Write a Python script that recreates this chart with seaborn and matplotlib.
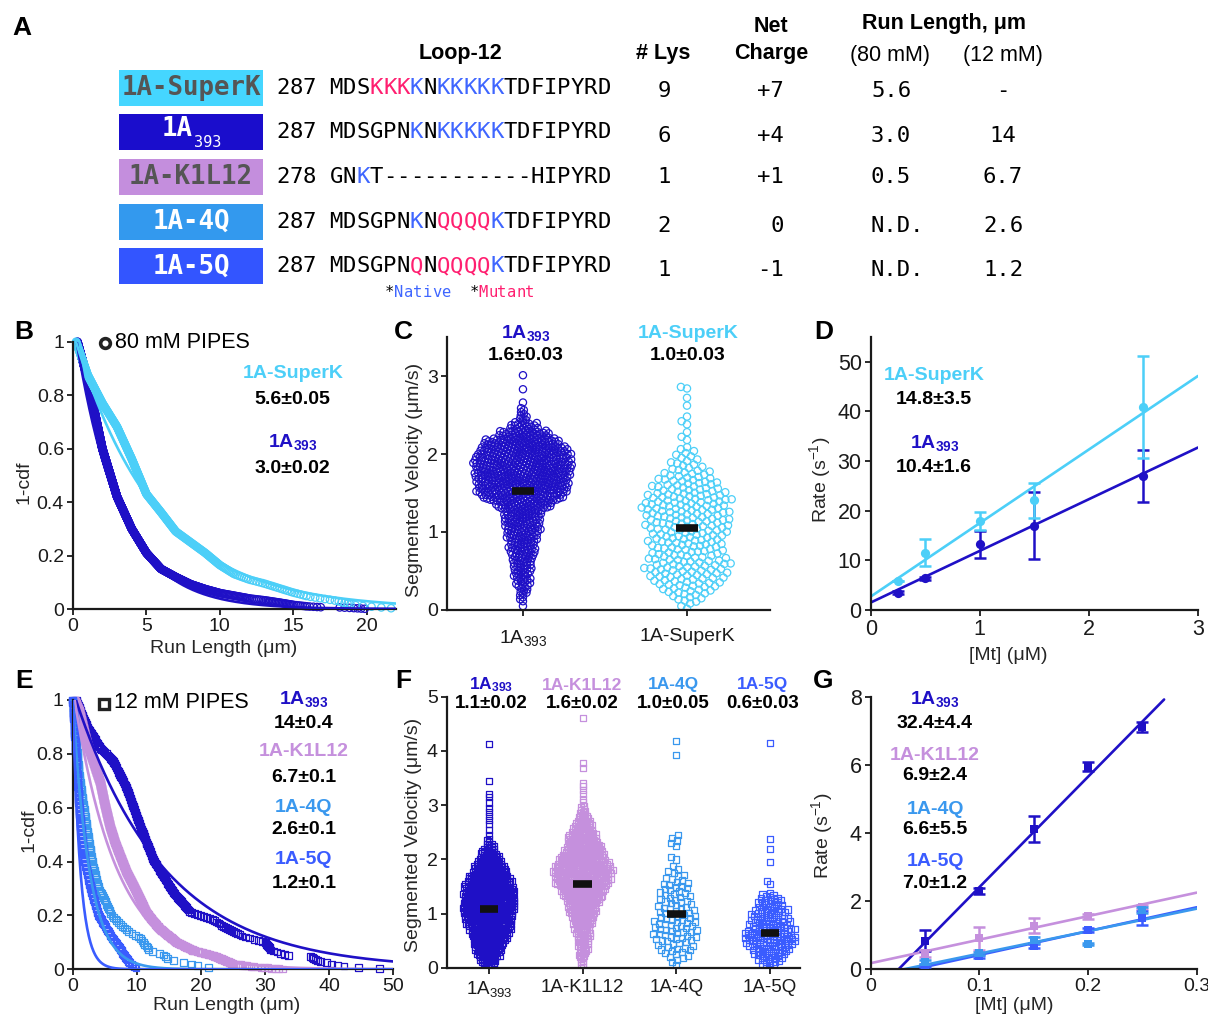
import numpy as np
import pandas as pd
import matplotlib
matplotlib.use("Agg")
import matplotlib.pyplot as plt
import seaborn as sns
from matplotlib.patches import Rectangle
from matplotlib.lines import Line2D

# ======================= DATA =======================
# ---- Panel A : loop-12 table
a_names = ["1A-SuperK", "1A393", "1A-K1L12", "1A-4Q", "1A-5Q"]
a_start = ["287", "287", "278", "287", "287"]
a_seq = ["MDSKKKKNKKKKKTDFIPYRD",
         "MDSGPNKNKKKKKTDFIPYRD",
         "GNKT-----------HIPYRD",
         "MDSGPNKNQQQQKTDFIPYRD",
         "MDSGPNQNQQQQKTDFIPYRD"]
# '.' plain residue, 'n' native lysine, 'm' mutant residue
a_marks = ["...mmmn.nnnnn........",
           "......n.nnnnn........",
           "..n..................",
           "......n.mmmmn........",
           "......m.mmmmn........"]
a_lys = ["9", "6", "1", "2", "1"]
a_charge = ["+7", "+4", "+1", "0", "-1"]
a_rl80 = ["5.6", "3.0", "0.5", "N.D.", "N.D."]
a_rl12 = ["-", "14", "6.7", "2.6", "1.2"]

# ---- Panel B : run lengths at 80 mM PIPES (histogram edges / counts)
b_edges_393 = [0.3, 1, 2, 3, 4, 5, 6, 7, 8, 9, 10, 11, 12, 13, 14, 15, 16, 17, 18, 19, 20]
b_counts_393 = [168, 312, 216, 144, 108, 72, 36, 32, 22, 18, 12, 12, 8, 10, 11, 7, 4, 0, 3, 4]
b_edges_superk = [0.2, 1, 2, 3, 4, 5, 6, 7, 8, 9, 10, 11, 12, 13, 14, 15, 16, 17, 18, 19, 20, 22]
b_counts_superk = [44, 37, 31, 42, 46, 24, 25, 14, 14, 16, 12, 7, 5, 6, 6, 5, 3, 3, 5, 2, 3]
b_fit_len = {"1A393": 3.0, "1A-SuperK": 5.6}
b_fit_x0 = {"1A393": 0.25, "1A-SuperK": 0.2}
b_stats = {"1A393": "3.0±0.02", "1A-SuperK": "5.6±0.05"}

# ---- Panel C : segmented velocity, 80 mM (counts per 0.1 um/s bin from 0)
c_names = ["1A393", "1A-SuperK"]
c_counts = {
    "1A393": [1, 4, 7, 10, 12, 13, 15, 18, 19, 21, 24, 25, 28, 40, 56, 63, 66, 68, 68, 66,
              62, 53, 35, 19, 7, 4],
    "1A-SuperK": [3, 7, 11, 14, 16, 17, 16, 15, 16, 16, 17, 18, 18, 19, 18, 15, 13, 10, 7, 5, 4],
}
c_outliers = {"1A393": [2.66, 2.83, 3.01],
              "1A-SuperK": [2.18, 2.22, 2.28, 2.38, 2.42, 2.48, 2.62, 2.72, 2.84, 2.86]}
c_means = [1.53, 1.05]
c_stats = ["1.6±0.03", "1.0±0.03"]

# ---- Panel D : rate vs [Mt], 80 mM
d_mt = [0.25, 0.5, 1.0, 1.5, 2.5]
d_rate = {"1A-SuperK": [5.9, 11.5, 18.0, 22.1, 40.8], "1A393": [3.5, 6.4, 13.2, 17.0, 27.0]}
d_err = {"1A-SuperK": [0.0, 2.7, 1.8, 3.5, 10.3], "1A393": [0.3, 0.3, 2.7, 6.8, 5.2]}
d_slope = {"1A-SuperK": 14.8, "1A393": 10.4}
d_icpt = {"1A-SuperK": 2.7, "1A393": 1.5}
d_stats = {"1A-SuperK": "14.8±3.5", "1A393": "10.4±1.6"}

# ---- Panel E : run lengths at 12 mM PIPES
e_names = ["1A393", "1A-K1L12", "1A-4Q", "1A-5Q"]
e_edges = {
    "1A393": [0.5, 2.2, 4.3, 6.3, 8.4, 10.5, 12.6, 15.7, 18.3, 22, 24, 26.6, 30, 31, 34, 37,
              38.3, 41.7, 43, 49.5],
    "1A-K1L12": [0.3, 1, 2.2, 3.2, 4.3, 5, 5.8, 6.6, 7.4, 8.4, 9.5, 10.5, 11.5, 12.5, 13.6,
                 16.2, 18.8, 22, 25, 28, 33],
    "1A-4Q": [0, 0.5, 1, 2, 3, 4, 5, 6, 7, 8.5, 10.5, 12, 14, 15, 18, 20, 22.5],
    "1A-5Q": [0, 0.5, 1, 1.5, 2, 3, 4, 5, 6, 7, 8, 9, 10],
}
e_counts = {
    "1A393": [25, 20, 12, 25, 35, 32, 30, 18, 8, 7, 8, 5, 8, 5, 0, 5, 4, 1, 2],
    "1A-K1L12": [36, 108, 63, 72, 72, 72, 54, 45, 54, 45, 45, 45, 27, 27, 45, 27, 18, 27, 9, 9],
    "1A-4Q": [22, 20, 25, 23, 15, 7, 8, 4, 5, 4, 7, 2, 3, 2, 2, 1],
    "1A-5Q": [40, 40, 26, 18, 20, 16, 8, 8, 6, 8, 6, 4],
}
e_fit_len = {"1A393": 14.0, "1A-K1L12": 6.7, "1A-4Q": 2.6, "1A-5Q": 1.2}
e_fit_x0 = {"1A393": 0.5, "1A-K1L12": 0.3, "1A-4Q": 0.0, "1A-5Q": 0.0}
e_stats = {"1A393": "14±0.4", "1A-K1L12": "6.7±0.1", "1A-4Q": "2.6±0.1", "1A-5Q": "1.2±0.1"}

# ---- Panel F : segmented velocity, 12 mM (counts per 0.1 um/s bin from 0)
f_names = ["1A393", "1A-K1L12", "1A-4Q", "1A-5Q"]
f_counts = {
    "1A393": [10, 14, 19, 23, 26, 30, 33, 36, 39, 42, 43, 45, 45, 43, 42, 39, 36, 30, 26, 20,
              16, 12, 7, 3],
    "1A-K1L12": [3, 4, 6, 7, 9, 10, 12, 13, 16, 19, 22, 24, 29, 33, 37, 42, 45, 45, 43, 39,
                 36, 32, 29, 24, 22, 16, 13, 9, 6, 4],
    "1A-4Q": [1, 3, 5, 6, 6, 8, 8, 8, 8, 7, 7, 6, 6, 6, 5, 5, 4, 3, 2],
    "1A-5Q": [5, 8, 11, 13, 16, 18, 16, 14, 13, 12, 11, 9, 8, 5],
}
f_outliers = {
    "1A393": [2.45, 2.55, 2.65, 2.72, 2.8, 2.88, 2.95, 3.05, 3.15, 3.2, 3.45, 4.13],
    "1A-K1L12": [3.05, 3.12, 3.2, 3.28, 3.35, 3.4, 3.68, 3.78, 4.6],
    "1A-4Q": [2.0, 2.05, 2.25, 2.3, 2.35, 2.4, 2.45, 3.93, 4.18],
    "1A-5Q": [1.55, 1.6, 1.95, 2.2, 2.38, 4.15],
}
f_means = [1.08, 1.55, 1.0, 0.65]
f_stats = ["1.1±0.02", "1.6±0.02", "1.0±0.05", "0.6±0.03"]

# ---- Panel G : rate vs [Mt], 12 mM
g_mt = [0.05, 0.1, 0.15, 0.2, 0.25]
g_rate = {"1A393": [0.84, 2.3, 4.12, 5.95, 7.1],
          "1A-K1L12": [0.47, 0.91, 1.28, 1.55, 1.84],
          "1A-4Q": [0.22, 0.47, 0.86, 0.73, 1.74],
          "1A-5Q": [0.12, 0.38, 0.68, 1.15, 1.5]}
g_err = {"1A393": [0.3, 0.08, 0.38, 0.12, 0.15],
         "1A-K1L12": [0.1, 0.34, 0.22, 0.08, 0.06],
         "1A-4Q": [0.05, 0.05, 0.08, 0.03, 0.08],
         "1A-5Q": [0.05, 0.05, 0.06, 0.05, 0.2]}
g_slope = {"1A393": 32.4, "1A-K1L12": 6.9, "1A-4Q": 6.6, "1A-5Q": 7.0}
g_icpt = {"1A393": -0.83, "1A-K1L12": 0.18, "1A-4Q": -0.2, "1A-5Q": -0.28}
g_xmax = {"1A393": 0.27, "1A-K1L12": 0.3, "1A-4Q": 0.3, "1A-5Q": 0.3}
g_stats = {"1A393": "32.4±4.4", "1A-K1L12": "6.9±2.4", "1A-4Q": "6.6±5.5", "1A-5Q": "7.0±1.2"}

# ======================= STYLE =======================
COL = {"1A393": "#1f10c6", "1A-SuperK": "#4ccff8", "1A-K1L12": "#c590dd",
       "1A-4Q": "#3a98ee", "1A-5Q": "#3a5cff"}
BOX = {"1A-SuperK": ("#45d6ff", "#555555"), "1A393": ("#1a0dcc", "white"),
       "1A-K1L12": ("#c48edd", "#555555"), "1A-4Q": ("#3399ee", "white"),
       "1A-5Q": ("#3355ff", "white")}
NATIVE, MUTANT = "#3f66ff", "#ff1f70"
MONO = ["DejaVu Sans Mono"]

sns.set_theme(style="ticks")
plt.rcParams["font.family"] = ["Liberation Sans", "DejaVu Sans"]
plt.rcParams["mathtext.fontset"] = "custom"
plt.rcParams["mathtext.rm"] = "Liberation Sans"
plt.rcParams["mathtext.bf"] = "Liberation Sans:bold"
plt.rcParams["mathtext.it"] = "Liberation Sans:italic"

W, H = 1208, 1016
fig = plt.figure(figsize=(W / 100, H / 100), dpi=100, facecolor="white")


def px_ax(l, t, r, b):
    return fig.add_axes([l / W, 1 - b / H, (r - l) / W, (b - t) / H])


def T(x, y, s, size=14, color="black", weight="normal", ha="center", va="center", family=None):
    kw = dict(fontsize=size, color=color, fontweight=weight, ha=ha, va=va)
    if family is not None:
        kw["family"] = family
    return fig.text(x / W, 1 - y / H, s, **kw)


def style(ax, ysize=14):
    sns.despine(ax=ax)
    for sp in ["left", "bottom"]:
        ax.spines[sp].set_linewidth(1.6)
        ax.spines[sp].set_color("#1a1a1a")
    ax.tick_params(direction="out", length=4, width=1.3, labelsize=14, pad=2.5,
                   colors="#1a1a1a")
    ax.tick_params(axis="y", labelsize=ysize)
    ax.set_facecolor("none")
    ax.grid(False)


def spread(edges, counts):
    out = []
    for lo, hi, n in zip(edges[:-1], edges[1:], counts):
        if n:
            out.extend(lo + (np.arange(n) + 0.5) * (hi - lo) / n)
    return np.array(out)


def binned(counts, outliers, w=0.1):
    out = []
    for k, n in enumerate(counts):
        if n:
            out.extend(k * w + (np.arange(n) + 0.5) * w / n)
    out.extend(outliers)
    return out


def hollow(coll, col, lw):
    coll.set_facecolor("none")
    coll.set_edgecolor(col)
    coll.set_linewidth(lw)
    coll.set_clip_on(False)


def sub393(bold=True):
    return r"$\mathbf{1A}_{\mathbf{393}}$" if bold else r"$\mathrm{1A}_{\mathrm{393}}$"


# ======================= PANEL A =======================
T(22, 28, "A", size=19, weight="bold")
T(461, 53, "Loop-12", size=15.5, weight="bold")
T(663, 53, "# Lys", size=15.5, weight="bold")
T(771, 26, "Net", size=15.5, weight="bold")
T(771, 53, "Charge", size=15.5, weight="bold")
T(944, 23, "Run Length, μm", size=15.5, weight="bold")
T(890, 55, "(80 mM)", size=15.5)
T(1003, 55, "(12 mM)", size=15.5)

a_row_y = [87.7, 132.3, 177, 221.7, 266.3]
a_val_y = [91, 136, 177, 226, 270]
mono_pt = 16
adv = mono_pt * 100 / 72 * 0.6021
mark_col = {".": "black", "n": NATIVE, "m": MUTANT}
for i, nm in enumerate(a_names):
    y = a_row_y[i]
    fc, tc = BOX[nm]
    fig.add_artist(Rectangle((119 / W, 1 - (y + 18) / H), 144 / W, 36 / H,
                             transform=fig.transFigure, facecolor=fc, edgecolor="none"))
    if nm == "1A393":
        T(193, y - 3, "1A", size=18.5, weight="bold", color=tc, family=MONO, ha="right")
        T(194, y + 10, "393", size=11, color=tc, family=MONO, ha="left")
    else:
        T(191, y, nm, size=18.5, weight="bold", color=tc, family=MONO)
    line = a_start[i] + " " + a_seq[i]
    marks = "...." + a_marks[i]
    for j, (ch, mk) in enumerate(zip(line, marks)):
        T(276 + j * adv, y, ch, size=mono_pt, family=MONO, ha="left", color=mark_col[mk])
    vy = a_val_y[i]
    T(664, vy, a_lys[i], size=mono_pt, family=MONO)
    T(784, vy, a_charge[i], size=mono_pt, family=MONO, ha="right")
    T(871, vy, a_rl80[i], size=mono_pt, family=MONO, ha="left")
    T(1003, vy, a_rl12[i], size=mono_pt, family=MONO)

leg = "*Native  *Mutant"
leg_c = ["black"] + [NATIVE] * 6 + ["black"] * 3 + [MUTANT] * 6
adv2 = 11.2 * 100 / 72 * 0.6021
for j, (ch, c) in enumerate(zip(leg, leg_c)):
    T(385 + j * adv2, 293, ch, size=11.2, family=MONO, ha="left", color=c)

# ======================= PANEL B =======================
axB = px_ax(73, 341.7, 396, 609)
style(axB)
for nm, edges, counts in [("1A393", b_edges_393, b_counts_393),
                          ("1A-SuperK", b_edges_superk, b_counts_superk)]:
    x = spread(edges, counts)
    yv = 1 - np.arange(len(x)) / len(x)
    sns.scatterplot(x=x, y=yv, ax=axB, color=COL[nm], marker="o", s=28, legend=False, zorder=2)
    hollow(axB.collections[-1], COL[nm], 0.9)
for nm in ["1A393", "1A-SuperK"]:
    xs = np.linspace(b_fit_x0[nm], 22, 300)
    sns.lineplot(x=xs, y=np.exp(-(xs - b_fit_x0[nm]) / b_fit_len[nm]), ax=axB, color=COL[nm],
                 lw=1.9, estimator=None, sort=False, legend=False, zorder=3)
axB.set_xlim(0, 22)
axB.set_ylim(0, 1.0)
axB.set_xticks([0, 5, 10, 15, 20])
axB.set_yticks([0, 0.2, 0.4, 0.6, 0.8, 1.0])
axB.set_yticklabels(["0", "0.2", "0.4", "0.6", "0.8", "1"])
axB.set_xlabel("Run Length (μm)", fontsize=14)
axB.set_ylabel("1-cdf", fontsize=14)
axB.xaxis.set_label_coords(0.467, -0.116)
axB.yaxis.set_label_coords(-0.124, 0.475)
T(24, 332, "B", size=19, weight="bold")
fig.add_artist(Line2D([104.5 / W], [1 - 342.5 / H], marker="o", ms=7, mfc="none", mec="#222222",
                      mew=2.6, transform=fig.transFigure))
T(115, 342.5, "80 mM PIPES", size=15.5, ha="left")
T(293, 373, "1A-SuperK", size=14, weight="bold", color=COL["1A-SuperK"])
T(292, 400, b_stats["1A-SuperK"], size=14, weight="bold")
T(293, 442, sub393(), size=14, color=COL["1A393"])
T(292, 468, b_stats["1A393"], size=14, weight="bold")

# ======================= PANEL C =======================
axC = px_ax(447, 337, 770, 610)
style(axC)
swarm_sets = []
c_layout = {"1A393": 3.3, "1A-SuperK": 6.0}
for nm in c_names:
    df = pd.DataFrame({"construct": nm, "velocity": binned(c_counts[nm], c_outliers[nm])})
    n0 = len(axC.collections)
    sns.swarmplot(data=df, x="construct", y="velocity", order=c_names, color=COL[nm],
                  size=c_layout[nm] * 0.72, marker="o", linewidth=0, ax=axC, warn_thresh=1.0,
                  zorder=2)
    swarm_sets.append((axC.collections[n0:], COL[nm], 5.2, 0.9))
for i, m in enumerate(c_means):
    axC.plot([i - 0.065, i + 0.065], [m, m], color="#111111", lw=5.5, solid_capstyle="butt",
             zorder=5)
axC.set_xlim(-0.463, 1.506)
axC.set_ylim(0, 3.5)
axC.set_yticks([0, 1, 2, 3])
axC.set_xticks([0, 1])
axC.set_xticklabels([sub393(False), "1A-SuperK"], fontsize=14)
axC.tick_params(axis="x", pad=9)
axC.set_xlabel("")
axC.set_ylabel("Segmented Velocity (μm/s)", fontsize=14)
axC.yaxis.set_label_coords(-0.074, 0.476)
T(403, 332, "C", size=19, weight="bold")
T(526, 333, sub393(), size=14, color=COL["1A393"])
T(526, 356, c_stats[0], size=14, weight="bold")
T(688, 333, "1A-SuperK", size=14, weight="bold", color=COL["1A-SuperK"])
T(688, 356, c_stats[1], size=14, weight="bold")

# ======================= PANEL D =======================
axD = px_ax(870.7, 336.7, 1198, 610)
style(axD, ysize=15.5)
axD.tick_params(axis="x", labelsize=15.5)
for nm in ["1A393", "1A-SuperK"]:
    axD.errorbar(d_mt, d_rate[nm], yerr=d_err[nm], fmt="none", ecolor=COL[nm], elinewidth=1.8,
                 capsize=4, capthick=1.8, zorder=3)
    sns.scatterplot(x=d_mt, y=d_rate[nm], ax=axD, color=COL[nm], marker="o", s=44,
                    linewidth=0, legend=False, zorder=4)
    xs = np.array([0.0, 3.0])
    sns.lineplot(x=xs, y=d_slope[nm] * xs + d_icpt[nm], ax=axD, color=COL[nm], lw=1.9,
                 estimator=None, sort=False, legend=False, zorder=2)
axD.set_xlim(0, 3)
axD.set_ylim(0, 55)
axD.set_xticks([0, 1, 2, 3])
axD.set_yticks([0, 10, 20, 30, 40, 50])
axD.set_xlabel("[Mt] (μM)", fontsize=14)
axD.set_ylabel(r"Rate (s$^{-1}$)", fontsize=14)
axD.xaxis.set_label_coords(0.42, -0.135)
axD.yaxis.set_label_coords(-0.115, 0.476)
T(824, 332, "D", size=19, weight="bold")
T(934, 375, "1A-SuperK", size=14, weight="bold", color=COL["1A-SuperK"])
T(934, 399, d_stats["1A-SuperK"], size=14, weight="bold")
T(935, 443, sub393(), size=14, color=COL["1A393"])
T(934, 467, d_stats["1A393"], size=14, weight="bold")

# ======================= PANEL E =======================
axE = px_ax(72.7, 700, 393, 969.3)
style(axE)
for nm in e_names:
    x = spread(e_edges[nm], e_counts[nm])
    yv = 1 - np.arange(len(x)) / len(x)
    sns.scatterplot(x=x, y=yv, ax=axE, color=COL[nm], marker="s", s=24, legend=False, zorder=2)
    hollow(axE.collections[-1], COL[nm], 0.9)
for nm in e_names:
    xs = np.linspace(e_fit_x0[nm], 50, 400)
    sns.lineplot(x=xs, y=np.exp(-(xs - e_fit_x0[nm]) / e_fit_len[nm]), ax=axE, color=COL[nm],
                 lw=1.9, estimator=None, sort=False, legend=False, zorder=3)
axE.set_xlim(0, 50)
axE.set_ylim(0, 1.0)
axE.set_xticks([0, 10, 20, 30, 40, 50])
axE.set_yticks([0, 0.2, 0.4, 0.6, 0.8, 1.0])
axE.set_yticklabels(["0", "0.2", "0.4", "0.6", "0.8", "1"])
axE.set_xlabel("Run Length (μm)", fontsize=14)
axE.set_ylabel("1-cdf", fontsize=14)
axE.xaxis.set_label_coords(0.48, -0.103)
axE.yaxis.set_label_coords(-0.111, 0.517)
T(24, 681, "E", size=19, weight="bold")
fig.add_artist(Line2D([104 / W], [1 - 704 / H], marker="s", ms=6.5, mfc="none", mec="#222222",
                      mew=2.4, transform=fig.transFigure))
T(114, 703, "12 mM PIPES", size=15.5, ha="left")
e_lab_y = [(699, 723), (752, 777), (807, 830), (860, 883)]
for nm, (ly, vy) in zip(e_names, e_lab_y):
    lab = sub393() if nm == "1A393" else nm
    T(304, ly, lab, size=14, weight="bold", color=COL[nm])
    T(304, vy, e_stats[nm], size=14, weight="bold")

# ======================= PANEL F =======================
axF = px_ax(446.7, 696.7, 800, 968)
style(axF)
f_layout = {"1A393": 2.5, "1A-K1L12": 2.5, "1A-4Q": 5.5, "1A-5Q": 4.0}
for nm in f_names:
    df = pd.DataFrame({"construct": nm, "velocity": binned(f_counts[nm], f_outliers[nm])})
    n0 = len(axF.collections)
    sns.swarmplot(data=df, x="construct", y="velocity", order=f_names, color=COL[nm],
                  size=f_layout[nm] * 0.72, marker="s", linewidth=0, ax=axF, warn_thresh=1.0,
                  zorder=2)
    swarm_sets.append((axF.collections[n0:], COL[nm], 4.4, 0.9))
for i, m in enumerate(f_means):
    axF.plot([i - 0.1, i + 0.1], [m, m], color="#111111", lw=5.5, solid_capstyle="butt",
             zorder=5)
axF.set_xlim(-0.4516, 3.32)
axF.set_ylim(0, 5)
axF.set_yticks([0, 1, 2, 3, 4, 5])
axF.set_xticks([0, 1, 2, 3])
axF.set_xticklabels([sub393(False), "1A-K1L12", "1A-4Q", "1A-5Q"], fontsize=13.5)
axF.tick_params(axis="x", pad=4)
axF.set_xlabel("")
axF.set_ylabel("Segmented Velocity (μm/s)", fontsize=14)
axF.yaxis.set_label_coords(-0.07, 0.49)
T(403, 681, "F", size=19, weight="bold")
f_x = [491, 582, 673, 763]
for nm, xx, st in zip(f_names, f_x, f_stats):
    lab = sub393() if nm == "1A393" else nm
    T(xx, 685, lab, size=12.5, weight="bold", color=COL[nm])
    T(xx, 704, st, size=13.5, weight="bold")

# ======================= PANEL G =======================
axG = px_ax(870.7, 696.7, 1196.7, 969.3)
style(axG, ysize=15.5)
for nm in ["1A393", "1A-K1L12", "1A-5Q", "1A-4Q"]:
    axG.errorbar(g_mt, g_rate[nm], yerr=g_err[nm], fmt="none", ecolor=COL[nm], elinewidth=1.8,
                 capsize=4, capthick=1.8, zorder=3)
    sns.scatterplot(x=g_mt, y=g_rate[nm], ax=axG, color=COL[nm], marker="s", s=30,
                    linewidth=0, legend=False, zorder=4)
    x0 = max(0.0, -g_icpt[nm] / g_slope[nm])
    xs = np.array([x0, g_xmax[nm]])
    sns.lineplot(x=xs, y=g_slope[nm] * xs + g_icpt[nm], ax=axG, color=COL[nm], lw=1.9,
                 estimator=None, sort=False, legend=False, zorder=2)
axG.set_xlim(0, 0.3)
axG.set_ylim(0, 8)
axG.set_xticks([0, 0.1, 0.2, 0.3])
axG.set_xticklabels(["0", "0.1", "0.2", "0.3"])
axG.set_yticks([0, 2, 4, 6, 8])
axG.set_xlabel("[Mt] (μM)", fontsize=14)
axG.set_ylabel(r"Rate (s$^{-1}$)", fontsize=14)
axG.xaxis.set_label_coords(0.44, -0.103)
axG.yaxis.set_label_coords(-0.11, 0.489)
T(823, 681, "G", size=19, weight="bold")
g_lab_y = [(699, 723), (755, 776), (809, 829), (862, 883)]
for nm, (ly, vy) in zip(e_names, g_lab_y):
    lab = sub393() if nm == "1A393" else nm
    T(935, ly, lab, size=14, weight="bold", color=COL[nm])
    T(935, vy, g_stats[nm], size=14, weight="bold")

# ---- lay out swarms at compact size, then show them with the reference marker size
fig.canvas.draw()
for colls, col, disp, lw in swarm_sets:
    for coll in colls:
        if "draw" in coll.__dict__:
            del coll.draw
        coll.set_sizes([disp ** 2])
        hollow(coll, col, lw)
        coll.set_clip_on(True)

fig.savefig("out.png", dpi=100, facecolor="white")
